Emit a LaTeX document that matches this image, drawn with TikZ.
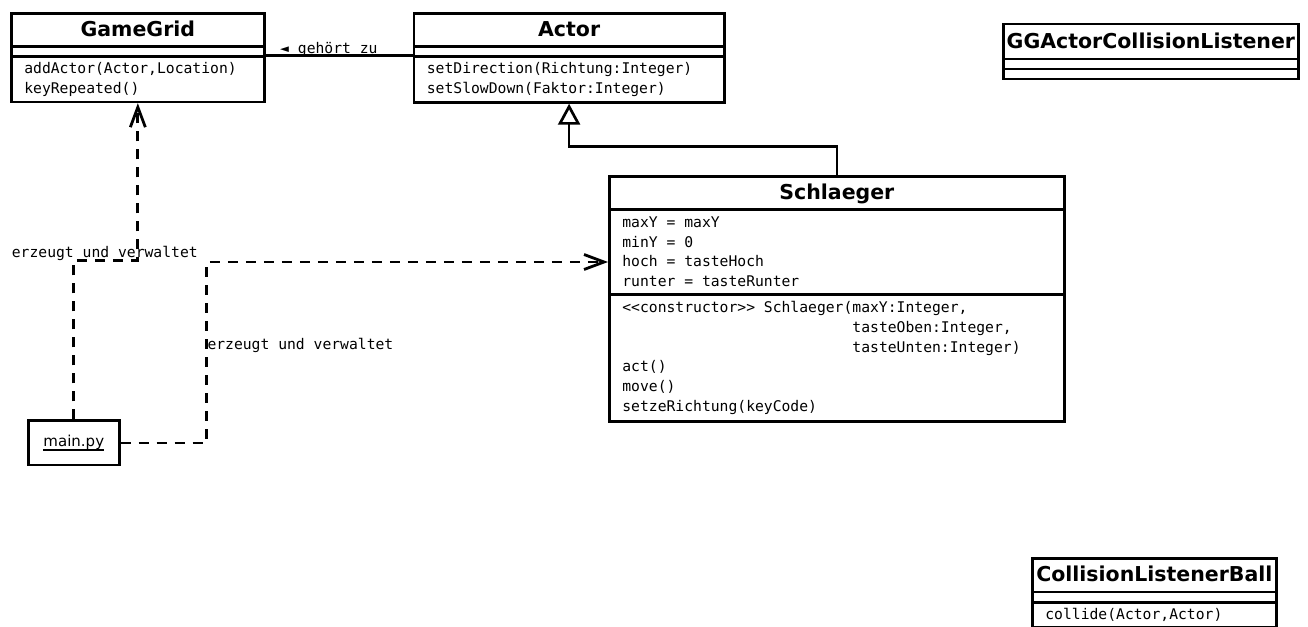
\documentclass[tikz,border=0pt]{standalone}
\usepackage{fontspec}
\setmainfont{DejaVu Sans}
\newfontfamily\monofam{DejaVu Sans Mono}
\usetikzlibrary{arrows.meta,calc}
\newcommand\ulbox[1]{\setbox0\hbox{#1}\rlap{\rule[-3.8pt]{\wd0}{1.4pt}}\box0}
\newcommand\msp{\hphantom{x}}
\begin{document}
\begin{tikzpicture}[x=1pt,y=-1pt,
  comp/.style={draw, line width=2.7pt, anchor=north west, inner xsep=13pt, inner ysep=0pt, align=left,
    font=\monofam\fontsize{14.7}{19.7}\selectfont},
  ttl/.style={draw, line width=2.7pt, anchor=north west, inner sep=0pt, align=center,
    font=\bfseries\fontsize{20.5}{24}\selectfont, text height=15pt, text depth=2pt},
  lbl/.style={inner sep=0pt, font=\monofam\fontsize{14.7}{19.7}\selectfont},
  dep/.style={line width=2.8pt, dash pattern=on 10pt off 8pt, -{Straight Barb[length=20pt,width=15pt]}},
  gen/.style={line width=2.7pt, -{Triangle[fill=white,length=21pt,width=22pt]}},
  assoc/.style={line width=2.7pt}
]
\useasboundingbox (0,0) rectangle (1308,626);

% GameGrid
\node[ttl, minimum width=253pt, minimum height=33pt] (gg-t) at (10,12.5) {GameGrid};
\node[comp, minimum width=253pt, minimum height=10pt] (gg-a) at (10,45.5) {};
\node[comp, text width=227pt, minimum height=45pt] (gg-m) at (10,55.5) {addActor(Actor,Location)\\keyRepeated()};

% Actor
\node[ttl, minimum width=310.5pt, minimum height=33pt] (ac-t) at (412.5,12.5) {Actor};
\node[comp, minimum width=310.5pt, minimum height=10pt] (ac-a) at (412.5,45.5) {};
\node[comp, text width=284.5pt, minimum height=45.5pt] (ac-m) at (412.5,55.5) {setDirection(Richtung:Integer)\\setSlowDown(Faktor:Integer)};

% Schlaeger
\node[ttl, minimum width=455pt, minimum height=33pt] (sc-t) at (608,175) {Schlaeger};
\node[comp, text width=429pt, minimum height=85pt] (sc-a) at (608,208) {maxY\msp=\msp{}maxY\\minY\msp=\msp0\\hoch\msp=\msp{}tasteHoch\\runter\msp=\msp{}tasteRunter};
\node[comp, text width=429pt, minimum height=127pt] (sc-m) at (608,293) {<<constructor>>\msp{}Schlaeger(maxY:Integer,\\\hphantom{<<constructor>>x{}Schlaeger(}tasteOben:Integer,\\\hphantom{<<constructor>>x{}Schlaeger(}tasteUnten:Integer)\\act()\\move()\\setzeRichtung(keyCode)};

% GGActorCollisionListener
\node[ttl, minimum width=295pt, minimum height=35pt] (gl-t) at (1002,22.7) {GGActorCollisionListener};
\node[comp, minimum width=295pt, minimum height=10pt] (gl-a) at (1002,57.7) {};
\node[comp, minimum width=295pt, minimum height=10pt] (gl-m) at (1002,67.7) {};

% CollisionListenerBall
\node[ttl, minimum width=244pt, minimum height=33.4pt] (cl-t) at (1031,557.3) {CollisionListenerBall};
\node[comp, minimum width=244pt, minimum height=10.3pt] (cl-a) at (1031,590.7) {};
\node[comp, text width=218pt, minimum height=24.5pt] (cl-m) at (1031,601) {collide(Actor,Actor)};

% main.py
\node[draw, line width=2.7pt, minimum width=91pt, minimum height=44.3pt, inner sep=0pt,
  font=\fontsize{15}{18}\selectfont] (mainpy) at (73.8,442.9) {\ulbox{main.py}};

% association
\draw[assoc] (gg-m.north east) -- (ac-m.north west);
\node[lbl, anchor=base west] (l-assoc) at (280,53.3) {◄\msp{}gehört\msp{}zu};

% generalization
\coordinate (g1) at (0,146.5);
\draw[gen] (sc-t.north) |- (ac-m.south |- g1) -- (ac-m.south);

% dependencies
\coordinate (j1) at (0,260.5);
\draw[dep] (mainpy.north) |- (gg-m.south |- j1) -- (gg-m.south);
\coordinate (j2) at (206.5,262);
\draw[dep] (mainpy.east) -| (j2) -- (sc-a.west |- j2);

\node[lbl, anchor=base west] (l-dep1) at (11.7,257) {erzeugt\msp{}und\msp{}verwaltet};
\node[lbl, anchor=base west] (l-dep2) at (207.3,349.3) {erzeugt\msp{}und\msp{}verwaltet};
\end{tikzpicture}
\end{document}
